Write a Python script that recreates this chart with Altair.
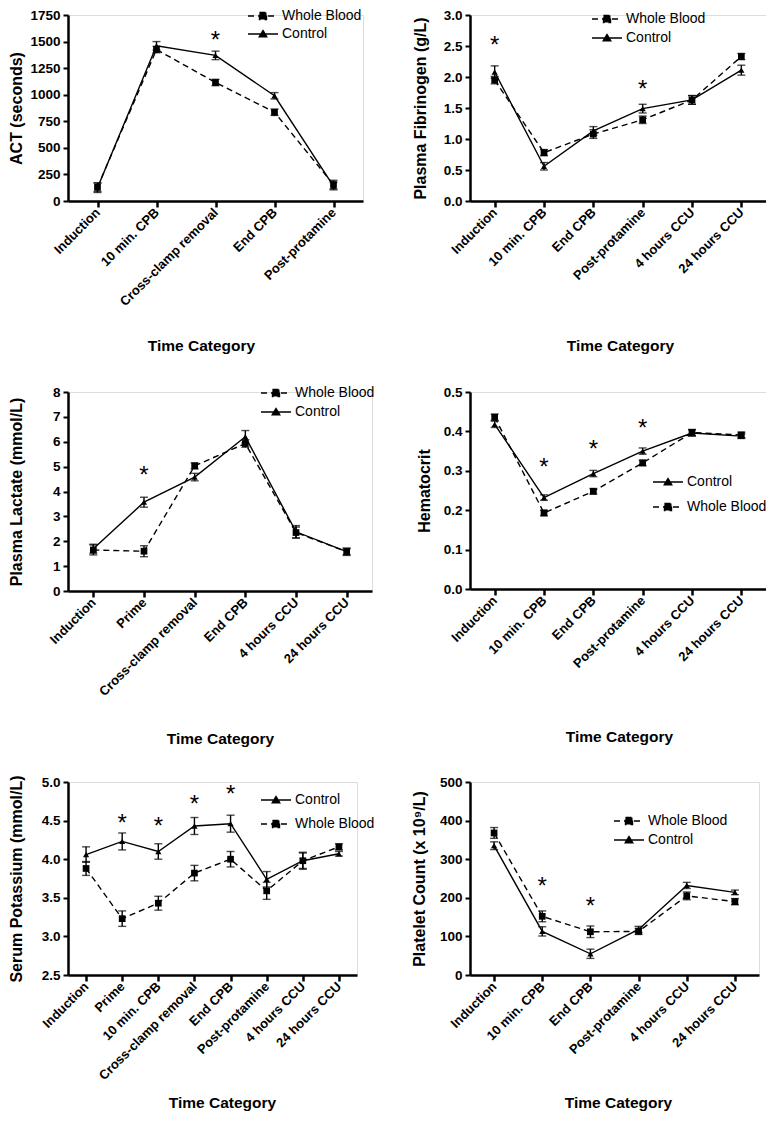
import altair as alt
import pandas as pd

FONT = "Liberation Sans"

# ---------------- Panel 1: ACT ----------------
act_cats = ["Induction", "10 min. CPB", "Cross-clamp removal", "End CPB", "Post-protamine"]
act_wb = [130, 1425, 1115, 835, 155]
act_wb_err = [40, 30, 30, 30, 40]
act_ctrl = [125, 1460, 1370, 990, 140]
act_ctrl_err = [45, 40, 40, 30, 35]
act_star_cats = ["Cross-clamp removal"]
act_star_vals = [1545]
act_ticks = [0, 250, 500, 750, 1000, 1250, 1500, 1750]

# ---------------- Panel 2: Fibrinogen ----------------
fib_cats = ["Induction", "10 min. CPB", "End CPB", "Post-protamine", "4 hours CCU", "24 hours CCU"]
fib_wb = [1.95, 0.78, 1.08, 1.31, 1.63, 2.33]
fib_wb_err = [0.06, 0.05, 0.07, 0.06, 0.07, 0.05]
fib_ctrl = [2.08, 0.56, 1.13, 1.49, 1.63, 2.11]
fib_ctrl_err = [0.10, 0.06, 0.07, 0.07, 0.07, 0.08]
fib_star_cats = ["Induction", "Post-protamine"]
fib_star_vals = [2.57, 1.85]
fib_ticks = [0.0, 0.5, 1.0, 1.5, 2.0, 2.5, 3.0]

# ---------------- Panel 3: Lactate ----------------
lac_cats = ["Induction", "Prime", "Cross-clamp removal", "End CPB", "4 hours CCU", "24 hours CCU"]
lac_wb = [1.65, 1.60, 5.03, 5.93, 2.35, 1.58]
lac_wb_err = [0.20, 0.22, 0.12, 0.15, 0.22, 0.15]
lac_ctrl = [1.70, 3.57, 4.58, 6.20, 2.38, 1.58]
lac_ctrl_err = [0.18, 0.20, 0.15, 0.25, 0.25, 0.12]
lac_star_cats = ["Prime"]
lac_star_vals = [4.8]
lac_ticks = [0, 1, 2, 3, 4, 5, 6, 7, 8]

# ---------------- Panel 4: Hematocrit ----------------
hct_cats = ["Induction", "10 min. CPB", "End CPB", "Post-protamine", "4 hours CCU", "24 hours CCU"]
hct_wb = [0.436, 0.193, 0.248, 0.320, 0.397, 0.391]
hct_wb_err = [0.008, 0.007, 0.007, 0.007, 0.008, 0.007]
hct_ctrl = [0.418, 0.232, 0.293, 0.350, 0.396, 0.388]
hct_ctrl_err = [0.008, 0.007, 0.008, 0.008, 0.008, 0.006]
hct_star_cats = ["10 min. CPB", "End CPB", "Post-protamine"]
hct_star_vals = [0.316, 0.363, 0.417]
hct_ticks = [0.0, 0.1, 0.2, 0.3, 0.4, 0.5]

# ---------------- Panel 5: Potassium ----------------
k_cats = ["Induction", "Prime", "10 min. CPB", "Cross-clamp removal", "End CPB",
          "Post-protamine", "4 hours CCU", "24 hours CCU"]
k_wb = [3.88, 3.23, 3.43, 3.82, 4.00, 3.59, 3.98, 4.16]
k_wb_err = [0.09, 0.10, 0.09, 0.10, 0.10, 0.11, 0.10, 0.04]
k_ctrl = [4.06, 4.23, 4.10, 4.43, 4.46, 3.74, 3.98, 4.07]
k_ctrl_err = [0.10, 0.11, 0.10, 0.11, 0.11, 0.10, 0.11, 0.03]
k_star_cats = ["Prime", "10 min. CPB", "Cross-clamp removal", "End CPB"]
k_star_vals = [4.51, 4.47, 4.76, 4.88]
k_ticks = [2.5, 3.0, 3.5, 4.0, 4.5, 5.0]

# ---------------- Panel 6: Platelets ----------------
plt_cats = ["Induction", "10 min. CPB", "End CPB", "Post-protamine", "4 hours CCU", "24 hours CCU"]
plt_wb = [368, 152, 112, 113, 205, 190]
plt_wb_err = [14, 14, 15, 8, 10, 8]
plt_ctrl = [335, 113, 55, 118, 232, 214]
plt_ctrl_err = [10, 12, 12, 8, 8, 6]
plt_star_cats = ["10 min. CPB", "End CPB"]
plt_star_vals = [239, 187]
plt_ticks = [0, 100, 200, 300, 400, 500]

WB = "Whole Blood"
CT = "Control"
# legend glyphs: a 30 px line with the marker in the middle (unit = 5 px)
WB_PATH = "M-3,0H3M-0.7,-0.7H0.7V0.7H-0.7Z"
CT_PATH = "M-3,0H3M0,-0.7L0.75,0.55H-0.75Z"
WB_DASH = [6, 4]
CT_DASH = [1, 0]


def make_panel(cats, wb, wb_err, ctrl, ctrl_err, star_cats, star_vals, ytitle, ticks, fmt,
               w, h, order, lx, ly, lrow, ytx, xtx, xty):
    rows = []
    for i, c in enumerate(cats):
        rows.append({"cat": c, "series": WB, "value": wb[i],
                     "lo": wb[i] - wb_err[i], "hi": wb[i] + wb_err[i]})
        rows.append({"cat": c, "series": CT, "value": ctrl[i],
                     "lo": ctrl[i] - ctrl_err[i], "hi": ctrl[i] + ctrl_err[i]})
    df = pd.DataFrame(rows)
    sdf = pd.DataFrame({"cat": star_cats, "value": star_vals})

    xaxis = alt.Axis(
        title="Time Category", labelAngle=-45, labelAlign="right", labelBaseline="middle",
        labelFont=FONT, labelFontSize=13, labelFontWeight="bold", labelColor="black",
        labelPadding=3, domainColor="black", domainWidth=2.5, tickColor="black",
        tickWidth=2.5, tickSize=6, grid=False, titleFont=FONT, titleFontSize=15.5,
        titleFontWeight="bold", titleColor="black", titleX=xtx, titleY=xty,
        titleBaseline="middle", titleAlign="center", labelOverlap=False)
    yaxis = alt.Axis(
        values=ticks, format=fmt, title=ytitle, grid=False, domainColor="black",
        domainWidth=2.5, tickColor="black", tickWidth=2, tickSize=5, labelFont=FONT,
        labelFontSize=13.5, labelFontWeight="bold", labelColor="black", labelPadding=3,
        titleFont=FONT, titleFontSize=16, titleFontWeight="bold", titleColor="black",
        titleX=ytx, titleY=h / 2, titleAngle=270, titleBaseline="middle", titleAlign="center")
    xs = alt.Scale(type="point", domain=cats, padding=0.5)
    ys = alt.Scale(domain=[ticks[0], ticks[-1]], nice=False, zero=False)

    def X():
        return alt.X("cat:N", scale=xs, axis=xaxis, title="Time Category")

    def Y(f):
        return alt.Y(f, scale=ys, axis=yaxis, title=ytitle)

    base = alt.Chart(df)
    wb_only = base.transform_filter(alt.datum.series == WB)
    ct_only = base.transform_filter(alt.datum.series == CT)

    wb_line = wb_only.mark_line(color="black", strokeWidth=1.4, strokeDash=WB_DASH).encode(
        x=X(), y=Y("value:Q"))
    ct_line = ct_only.mark_line(color="black", strokeWidth=1.4).encode(x=X(), y=Y("value:Q"))
    err = base.mark_rule(color="black", strokeWidth=1.4).encode(
        x=X(), y=Y("lo:Q"), y2="hi:Q")
    cap_lo = base.mark_tick(color="black", thickness=1.4, size=8, orient="horizontal").encode(
        x=X(), y=Y("lo:Q"))
    cap_hi = base.mark_tick(color="black", thickness=1.4, size=8, orient="horizontal").encode(
        x=X(), y=Y("hi:Q"))
    wb_pts = wb_only.mark_point(shape="square", filled=True, color="black", size=45,
                                opacity=1).encode(x=X(), y=Y("value:Q"))
    ct_pts = ct_only.mark_point(shape="triangle-up", filled=True, color="black", size=38,
                                opacity=1).encode(x=X(), y=Y("value:Q"))
    stars = alt.Chart(sdf).mark_text(text="*", font=FONT, fontSize=24, color="black",
                                     baseline="alphabetic", dy=11).encode(x=X(), y=Y("value:Q"))

    paths = [WB_PATH if s == WB else CT_PATH for s in order]
    dashes = [WB_DASH if s == WB else CT_DASH for s in order]
    leg = alt.Legend(title=None, orient="none", legendX=lx, legendY=ly, labelFont=FONT,
                     labelFontSize=14, labelColor="black", symbolSize=100,
                     symbolStrokeWidth=1.4, symbolOpacity=1, rowPadding=lrow,
                     labelOffset=12, padding=0)
    legend_layer = base.mark_point(filled=False, fill="black", stroke="black",
                                   strokeWidth=1.4, opacity=0).encode(
        x=X(), y=Y("value:Q"),
        shape=alt.Shape("series:N", scale=alt.Scale(domain=order, range=paths), legend=leg),
        strokeDash=alt.StrokeDash("series:N", scale=alt.Scale(domain=order, range=dashes),
                                  legend=leg))

    return alt.layer(wb_line, ct_line, err, cap_lo, cap_hi, wb_pts, ct_pts, stars,
                     legend_layer).properties(width=w, height=h)


p1 = make_panel(act_cats, act_wb, act_wb_err, act_ctrl, act_ctrl_err, act_star_cats,
                act_star_vals, "ACT (seconds)", act_ticks, "d", 295, 186, [WB, CT],
                188, -6, 4, -52, 133, 144)
p2 = make_panel(fib_cats, fib_wb, fib_wb_err, fib_ctrl, fib_ctrl_err, fib_star_cats,
                fib_star_vals, "Plasma Fibrinogen (g/L)", fib_ticks, ".1f", 296, 186, [WB, CT],
                130, -3, 5, -50, 150, 144)
p3 = make_panel(lac_cats, lac_wb, lac_wb_err, lac_ctrl, lac_ctrl_err, lac_star_cats,
                lac_star_vals, "Plasma Lactate (mmol/L)", lac_ticks, "d", 304, 199, [WB, CT],
                201, -6, 5, -52, 152, 147)
p4 = make_panel(hct_cats, hct_wb, hct_wb_err, hct_ctrl, hct_ctrl_err, hct_star_cats,
                hct_star_vals, "Hematocrit", hct_ticks, ".1f", 296, 197, [CT, WB],
                191, 83, 11, -46, 149, 147)
p5 = make_panel(k_cats, k_wb, k_wb_err, k_ctrl, k_ctrl_err, k_star_cats, k_star_vals,
                "Serum Potassium (mmol/L)", k_ticks, ".1f", 289, 193, [CT, WB],
                201, 11, 10, -52, 154, 127)
p6 = make_panel(plt_cats, plt_wb, plt_wb_err, plt_ctrl, plt_ctrl_err, plt_star_cats,
                plt_star_vals, "Platelet Count (x 10\u2079/L)", plt_ticks, "d", 289, 193, [WB, CT],
                152, 32, 5, -51, 148, 127)

chart = alt.concat(
    p1, p2, p3, p4, p5, p6, columns=2,
    spacing=alt.RowColnumber(row=191, column=98), bounds="flush", align="each"
).resolve_scale(shape="independent", strokeDash="independent").resolve_legend(
    shape="independent", strokeDash="independent"
).configure_view(stroke=None).configure(font=FONT).properties(
    autosize=alt.AutoSizeParams(type="none"),
    padding={"left": 60, "top": 7, "right": 698, "bottom": 1097})

chart.save("out.html", embed_options={"renderer": "svg", "actions": False})
